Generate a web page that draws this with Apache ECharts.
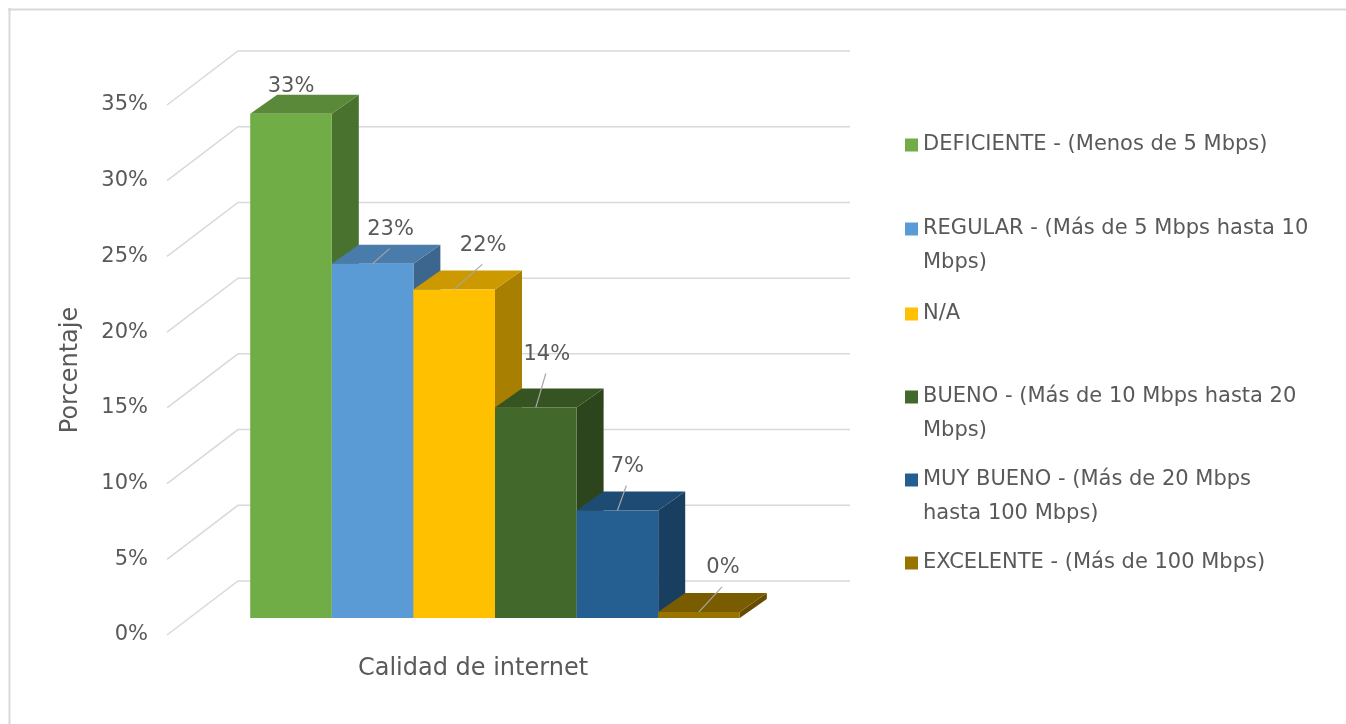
<!DOCTYPE html>
<html>
<head>
<meta charset="utf-8">
<script src="https://cdn.jsdelivr.net/npm/echarts@6/dist/echarts.min.js"></script>
<style>html,body{margin:0;padding:0;background:#fff}#c{width:1346px;height:724px}</style>
</head>
<body>
<div id="c"></div>
<script>
// ---- data ----
const category = ['Calidad de internet'];
const seriesNames = [
  'DEFICIENTE - (Menos de 5 Mbps)',
  'REGULAR - (Más de 5 Mbps hasta 10 Mbps)',
  'N/A',
  'BUENO - (Más de 10 Mbps hasta 20 Mbps)',
  'MUY BUENO - (Más de 20 Mbps hasta 100 Mbps)',
  'EXCELENTE - (Más de 100 Mbps)'
];
const legendLabels = [
  'DEFICIENTE - (Menos de 5 Mbps)',
  'REGULAR - (Más de 5 Mbps hasta 10\nMbps)',
  'N/A',
  'BUENO - (Más de 10 Mbps hasta 20\nMbps)',
  'MUY BUENO - (Más de 20 Mbps\nhasta 100 Mbps)',
  'EXCELENTE - (Más de 100 Mbps)'
];
const values = [33.3, 23.4, 21.7, 13.9, 7.1, 0.4];
const yTicks = [0, 5, 10, 15, 20, 25, 30, 35];

// ---- style ----
const colors = ['#70AD47', '#5B9BD5', '#FFC000', '#43682B', '#255E91', '#997300'];
const labelOffsets = [[0, -27], [18, -34], [29, -44], [11, -53], [10, -44], [24, -44]];
const legendCenters = [145, 229, 314, 397, 480, 563];
const DX = 27, DY = -19;          // bar depth
const BACK = [49, -37];           // back wall offset from bar plane
const FRONT = [-22, 17];          // floor front offset from bar plane
const FONT = 'DejaVu Sans';
const TXT = '#595959';

function shade(hex, f) {
  const n = parseInt(hex.slice(1), 16);
  const r = Math.round(((n >> 16) & 255) * f), g = Math.round(((n >> 8) & 255) * f), b = Math.round((n & 255) * f);
  return 'rgb(' + r + ',' + g + ',' + b + ')';
}

const chart = echarts.init(document.getElementById('c'), null, {renderer: 'canvas'});

const wallSeries = {
  type: 'custom', name: '_walls', xAxisIndex: 0, yAxisIndex: 0, silent: true, z: 1,
  data: yTicks.map(v => [0, v]),
  renderItem: function (params, api) {
    const p = api.coord([0, api.value(1)]);
    const band = api.size([1, 0])[0];
    const left = p[0] - band / 2, right = p[0] + band / 2;
    return {
      type: 'polyline',
      shape: {points: [[left + FRONT[0], p[1] + FRONT[1]], [left + BACK[0], p[1] + BACK[1]], [right + BACK[0], p[1] + BACK[1]]]},
      style: {stroke: '#D9D9D9', lineWidth: 1.5, fill: null}
    };
  }
};

const barSeries = seriesNames.map((name, idx) => ({
  type: 'custom', name: name, xAxisIndex: 0, yAxisIndex: 0, z: 2 + idx,
  color: colors[idx],
  data: [[0, values[idx]]],
  encode: {x: 0, y: 1},
  renderItem: function (params, api) {
    const v = api.value(1);
    const base = api.coord([0, 0]);
    const top = api.coord([0, v]);
    const band = api.size([1, 0])[0];
    const groupW = band * 0.8;
    const barW = groupW / seriesNames.length;
    const x0 = base[0] - groupW / 2 + barW * idx;
    const x1 = x0 + barW;
    const yb = base[1], yt = top[1];
    const c = colors[idx];
    const cx = (x0 + x1) / 2;
    const off = labelOffsets[idx];
    const lx = cx + off[0], ly = yt + off[1];
    const children = [
      {type: 'polygon', shape: {points: [[x1, yt], [x1 + DX, yt + DY], [x1 + DX, yb + DY], [x1, yb]]}, style: {fill: shade(c, 0.66)}},
      {type: 'polygon', shape: {points: [[x0, yt], [x1, yt], [x1 + DX, yt + DY], [x0 + DX, yt + DY]]}, style: {fill: shade(c, 0.8)}},
      {type: 'rect', shape: {x: x0, y: yt, width: barW, height: yb - yt}, style: {fill: c}}
    ];
    const endY = ly + 19;
    if (Math.hypot(lx - cx, endY - yt) > 12) {
      children.push({type: 'line', shape: {x1: cx, y1: yt, x2: lx - 1, y2: endY}, style: {stroke: '#A6A6A6', lineWidth: 1.2}});
    }
    children.push({type: 'text', style: {text: Math.round(v) + '%', x: lx, y: ly, align: 'center', verticalAlign: 'middle',
      fill: TXT, font: '21px "' + FONT + '"'}});
    return {type: 'group', children: children};
  }
}));

const legends = seriesNames.map((name, idx) => {
  const lines = legendLabels[idx].split('\n').length;
  const lh = 34;
  const label = lines === 1 ? legendLabels[idx] : '\n' + legendLabels[idx];
  return {
    data: [name], orient: 'vertical', left: 905, top: legendCenters[idx] - (lines === 1 ? lh / 2 : lh * 1.5),
    padding: 0, icon: 'rect', itemWidth: 13, itemHeight: 13, itemGap: 0, selectedMode: false,
    formatter: () => label,
    textStyle: {fontFamily: FONT, fontSize: 21, color: TXT, lineHeight: lh}
  };
});

const option = {
  backgroundColor: '#fff',
  animation: false,
  grid: [
    {left: 189, width: 612, top: 88, height: 530},
    {left: 167, width: 612, top: 105, height: 530}
  ],
  xAxis: [
    {type: 'category', data: category, gridIndex: 0, show: false},
    {type: 'category', data: category, gridIndex: 1, axisLine: {show: false}, axisTick: {show: false},
      axisLabel: {fontFamily: FONT, fontSize: 24, color: TXT, margin: 22}}
  ],
  yAxis: [
    {type: 'value', gridIndex: 0, min: 0, max: 35, interval: 5, show: false},
    {type: 'value', gridIndex: 1, min: 0, max: 35, interval: 5,
      axisLine: {show: false}, axisTick: {show: false}, splitLine: {show: false},
      axisLabel: {formatter: '{value}%', fontFamily: FONT, fontSize: 21, color: TXT, margin: 19},
      name: 'Porcentaje', nameLocation: 'middle', nameGap: 84, nameRotate: 90,
      nameTextStyle: {fontFamily: FONT, fontSize: 24, color: TXT}}
  ],
  legend: legends,
  graphic: [
    {type: 'line', shape: {x1: 8, y1: 9.5, x2: 1346, y2: 9.5}, style: {stroke: '#D9D9D9', lineWidth: 2}, silent: true},
    {type: 'line', shape: {x1: 9.5, y1: 8, x2: 9.5, y2: 724}, style: {stroke: '#D9D9D9', lineWidth: 2}, silent: true}
  ],
  series: [wallSeries].concat(barSeries)
};
chart.setOption(option);
</script>
</body>
</html>
